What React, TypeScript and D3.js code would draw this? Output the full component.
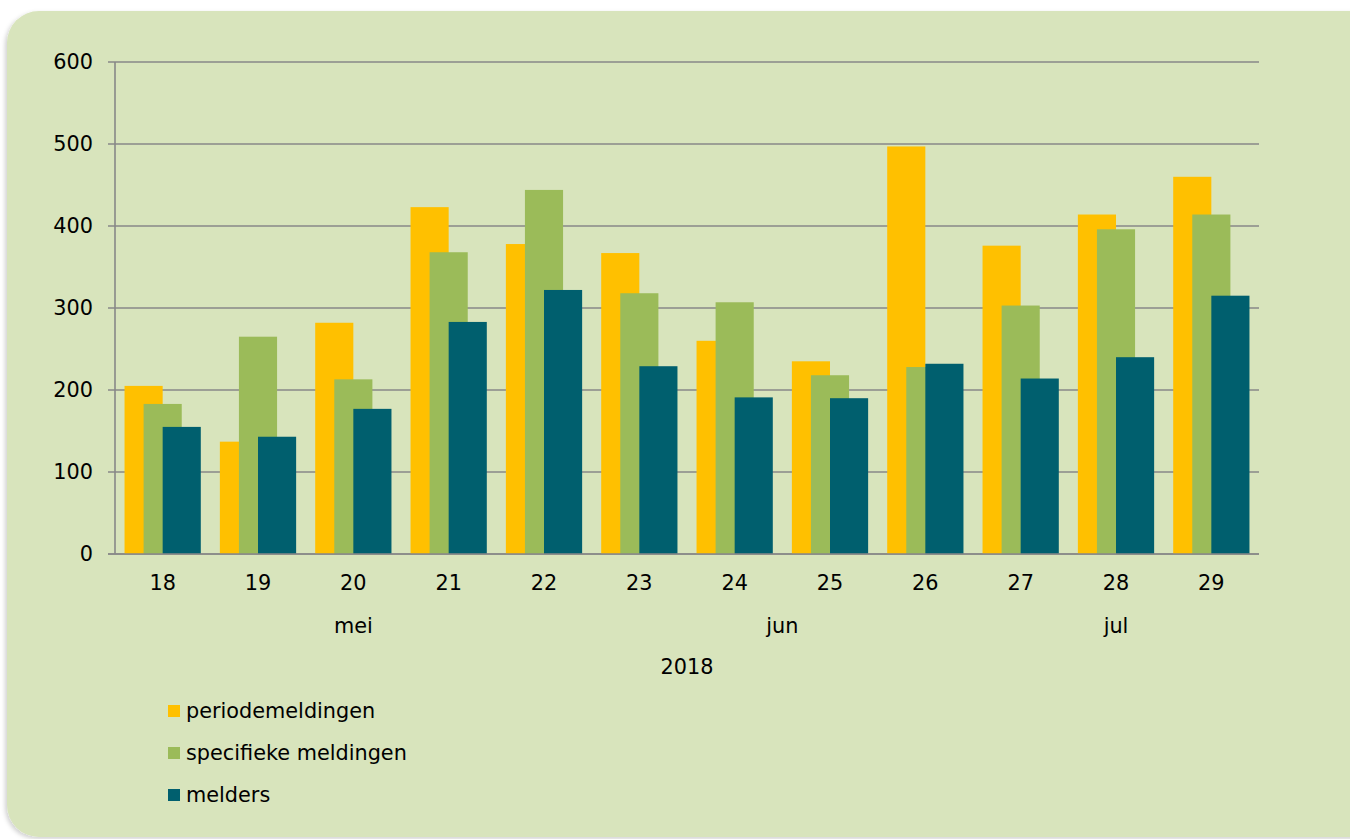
import React from "react";
import * as d3 from "d3";

const weeks = ["18", "19", "20", "21", "22", "23", "24", "25", "26", "27", "28", "29"];
const periodemeldingen = [205, 137, 282, 423, 378, 367, 260, 235, 497, 376, 414, 460];
const specifiekeMeldingen = [183, 265, 213, 368, 444, 318, 307, 218, 228, 303, 396, 414];
const melders = [155, 143, 177, 283, 322, 229, 191, 190, 232, 214, 240, 315];
const months = [
  { label: "mei", from: "18", to: "22" },
  { label: "jun", from: "23", to: "26" },
  { label: "jul", from: "27", to: "29" },
];
const yearLabel = "2018";
const yTicks = [0, 100, 200, 300, 400, 500, 600];
const seriesNames = ["periodemeldingen", "specifieke meldingen", "melders"];
const seriesColors = ["#FFC000", "#9BBB59", "#005F6E"];

export default function App() {
  const W = 1350;
  const H = 839;
  const left = 115;
  const right = 1259;
  const top = 62;
  const bottom = 554;
  const x = d3.scaleBand<string>().domain(weeks).range([left, right]).padding(0);
  const y = d3.scaleLinear().domain([0, 600]).range([bottom, top]);
  const bw = x.bandwidth() * 0.4;
  const series = [periodemeldingen, specifiekeMeldingen, melders];
  const font = "'DejaVu Sans', Verdana, sans-serif";
  const grid = "#888888";
  const fs = 20.8;

  return (
    <svg
      width={W}
      height={H}
      style={{ position: "absolute", left: 0, top: 0, display: "block" }}
      fontFamily={font}
    >
      <defs>
        <filter id="sh" x="-5%" y="-5%" width="110%" height="110%">
          <feDropShadow dx="-2" dy="2" stdDeviation="2" floodColor="#000" floodOpacity="0.18" />
        </filter>
      </defs>
      <rect x={0} y={0} width={W} height={H} fill="#ffffff" />
      <rect x={7} y={11} width={1420} height={826} rx={32} ry={32} fill="#D8E4BC" filter="url(#sh)" />

      {yTicks.map((t) => (
        <g key={t}>
          <line x1={108} x2={right} y1={y(t)} y2={y(t)} stroke={grid} strokeWidth={1.6} />
          <text x={93} y={y(t)} dy="0.36em" textAnchor="end" fontSize={fs} fill="#000">
            {t}
          </text>
        </g>
      ))}
      <line x1={left} x2={left} y1={top} y2={bottom} stroke={grid} strokeWidth={1.6} />

      {series.map((vals, si) =>
        vals.map((v, i) => {
          const c = (x(weeks[i]) as number) + x.bandwidth() / 2;
          const x0 = c - bw + si * (bw / 2);
          return (
            <rect
              key={si + "-" + i}
              x={x0}
              y={y(v)}
              width={bw}
              height={y(0) - y(v)}
              fill={seriesColors[si]}
            />
          );
        })
      )}
      <line x1={108} x2={right} y1={bottom} y2={bottom} stroke={grid} strokeWidth={1.6} />

      {weeks.map((w) => (
        <text
          key={w}
          x={(x(w) as number) + x.bandwidth() / 2}
          y={583}
          dy="0.36em"
          textAnchor="middle"
          fontSize={fs}
          fill="#000"
        >
          {w}
        </text>
      ))}
      {months.map((m) => {
        const a = x(m.from) as number;
        const b = (x(m.to) as number) + x.bandwidth();
        return (
          <text key={m.label} x={(a + b) / 2} y={626} dy="0.36em" textAnchor="middle" fontSize={fs} fill="#000">
            {m.label}
          </text>
        );
      })}
      <text x={(left + right) / 2} y={667} dy="0.36em" textAnchor="middle" fontSize={fs} fill="#000">
        {yearLabel}
      </text>

      {seriesNames.map((n, i) => {
        const ly = 711 + i * 42;
        return (
          <g key={n}>
            <rect x={168} y={ly - 6} width={12} height={12} fill={seriesColors[i]} />
            <text x={186} y={ly} dy="0.36em" fontSize={fs} fill="#000">
              {n}
            </text>
          </g>
        );
      })}
    </svg>
  );
}
